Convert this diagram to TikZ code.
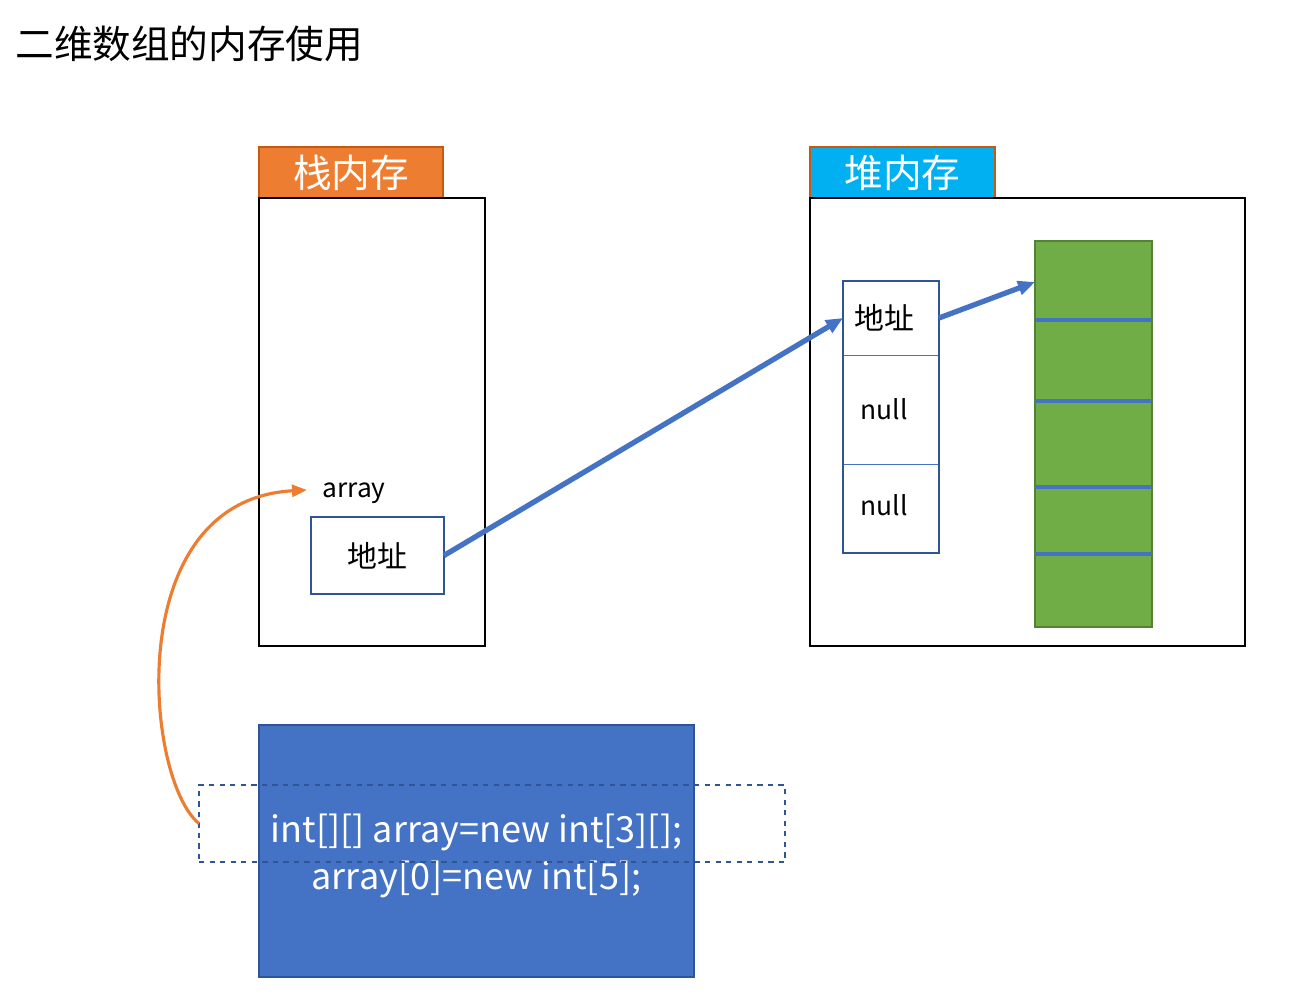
\documentclass[tikz,border=0pt]{standalone}
\usepackage{fontspec}
\setmainfont{Noto Sans CJK SC}
\usetikzlibrary{arrows.meta}
\definecolor{stackorange}{HTML}{ED7D31}
\definecolor{headborder}{HTML}{C55A11}
\definecolor{heapcyan}{HTML}{00B0F0}
\definecolor{refblue}{HTML}{4472C4}
\definecolor{darkblue}{HTML}{2F5597}
\definecolor{cellgreen}{HTML}{70AD47}
\definecolor{greenborder}{HTML}{548235}

\begin{document}
\begin{tikzpicture}[x=0.02cm,y=-0.02cm]
\tikzset{box/.style={anchor=north west, inner sep=0pt, outer sep=0pt},
         header/.style={box, draw=headborder, line width=1pt, text=white, minimum height=1.02cm, font=\fontsize{22}{26}\selectfont},
         memory/.style={box, draw=black, line width=1.1pt, minimum height=8.96cm},
         cell/.style={box, draw=refblue, line width=0.5pt, minimum width=1.92cm},
         celltext/.style={inner sep=0pt, font=\fontsize{15}{18}\selectfont},
         ref/.style={-{Triangle[length=0.34cm,width=0.28cm]}, refblue, line width=3pt},
         sepline/.style={refblue, line width=2.2pt}}
\useasboundingbox (0,0) rectangle (1311,1002);
\node[anchor=west, inner sep=0pt] (title) at (15,44) {\fontsize{22}{26}\selectfont 二维数组的内存使用};

% stack
\node[header, fill=stackorange, minimum width=3.68cm] (stackhead) at (259,147) {栈内存};
\node[memory, minimum width=4.52cm] (stack) at (259,198) {};
\node[inner sep=0pt] (arraylabel) at (354,493) {\fontsize{15}{18}\selectfont array};
\coordinate (arraytip) at (307,490);
\node[box, draw=darkblue, line width=1pt, fill=white, minimum width=2.66cm, minimum height=1.54cm, font=\fontsize{17}{20}\selectfont] (addr) at (311,517) {地址};

% heap
\node[header, fill=heapcyan, minimum width=3.7cm] (heaphead) at (810,147) {堆内存};
\node[memory, minimum width=8.7cm] (heap) at (810,198) {};
\node[cell, minimum height=1.48cm] (cell0) at (843,281) {};
\node[cell, minimum height=2.18cm] (cell1) at (843,355) {};
\node[cell, minimum height=1.78cm] (cell2) at (843,464) {};
\draw[darkblue, line width=1.1pt] (cell0.north west) rectangle (cell2.south east);
\node[celltext, font=\fontsize{17}{20}\selectfont] (addr0) at ([xshift=-0.14cm]cell0.center) {地址};
\node[celltext] (null1) at ([xshift=-0.14cm]cell1.center) {null};
\node[celltext] (null2) at ([xshift=-0.14cm,yshift=0.06cm]cell2.center) {null};
\node[box, fill=cellgreen, draw=greenborder, line width=1pt, minimum width=2.34cm, minimum height=7.72cm] (block) at (1035,241) {};
\foreach \y in {320,401,487,554}
  \draw[sepline] (1036,\y) -- (1151,\y);
\coordinate (blocktop) at (1035,282);

% code
\node[box, fill=refblue, draw=darkblue, line width=1pt, minimum width=8.7cm, minimum height=5.04cm] (code) at (259,725) {};
\node[inner sep=0pt, text=white, align=center, font=\fontsize{20.5}{26.5}\selectfont] (codetext) at ([yshift=-0.1cm]code.center) {int[][] array=new int[3][];\\array[0]=new int[5];};
\node[box, draw=darkblue, dashed, line width=0.8pt, minimum width=11.72cm, minimum height=1.54cm] (decl) at (199,785) {};

\draw[ref] (addr.east) -- (cell0.west);
\draw[ref] (cell0.east) -- (blocktop);
\draw[-{Triangle[length=0.3cm,width=0.24cm]}, stackorange, line width=1.8pt] (decl.west) .. controls (145,780) and (120,500) .. (arraytip);
\end{tikzpicture}
\end{document}
